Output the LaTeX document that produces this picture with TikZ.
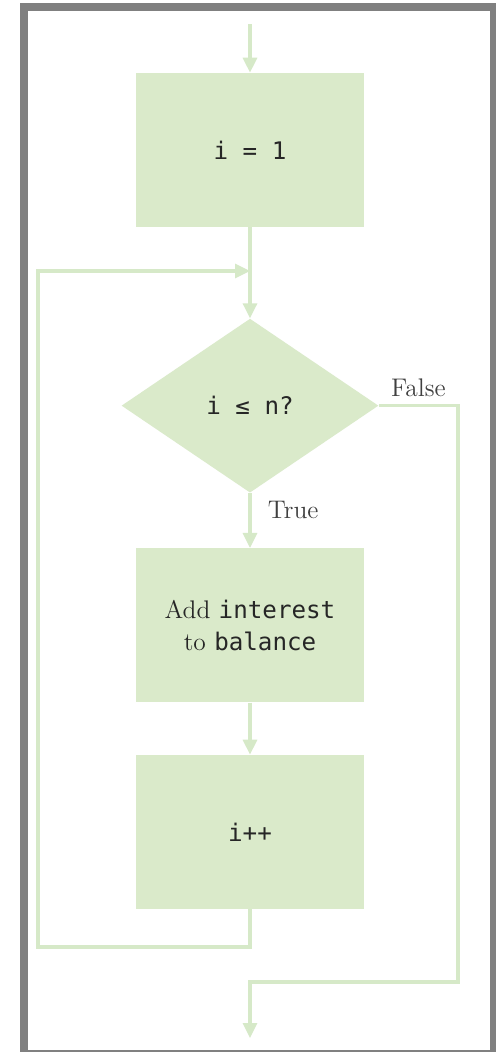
\documentclass[tikz,border=0pt]{standalone}
\usepackage{fontspec}
\setmonofont[Scale=0.95]{DejaVu Sans Mono}
\usetikzlibrary{arrows.meta,shapes.geometric,positioning}
\definecolor{flowfill}{HTML}{DAEACA}
\definecolor{flowline}{HTML}{D6E9C8}
\definecolor{framegray}{HTML}{808080}
\tikzset{
  every picture/.style = {
    >={Triangle[width=0.28cm,length=0.3cm]},
    node distance = 1cm and 2cm,
  }
  ,
  flow/.style = {
    draw = flowline,
    line width = 1.8pt
  }
  ,
  action/.style = {
    rectangle,
    fill = flowfill,
    text = black!85,
    font = \fontsize{14.5}{18}\selectfont,
    align = center,
    minimum width = 4.58cm,
    minimum height = 3.08cm
  }
  , % the test of the loop
  decision/.style = {
    diamond,
    fill = flowfill,
    text = black!85,
    font = \fontsize{14.5}{18}\selectfont,
    inner sep = 0pt,
    minimum width = 5.14cm,
    minimum height = 3.48cm
  }
  , % labels of edges
  label-edge/.style = {
    font = \fontsize{14.5}{16}\selectfont,
    text = black!75
  }
}
\begin{document}
\begin{tikzpicture}[x=0.02cm, y=-0.02cm]
\useasboundingbox (0,0) rectangle (496,1052);
\fill [white] (0,0) rectangle (496,1052);
\draw [framegray, line width=0.16cm] (24,7) rectangle (494,1054);

\node [action] (init) at (250,150) {\texttt{i = 1}};
\node [decision, below = 1.82cm of init] (cond) {\texttt{i ≤ n?}};
\node [action, below = 1.1cm of cond] (body) {Add \texttt{interest}\\to \texttt{balance}};
\node [action, below = 1.04cm of body] (incr) {\texttt{i++}};

\coordinate (start) at (250,24);
\coordinate (join) at (250,271);
\coordinate (back) at (38,947);
\coordinate (out) at (458,982);
\coordinate (exit) at (250,1038);

\draw [flow, ->] (start) -- (init);
\draw [flow] (init) -- (join);
\draw [flow, ->] (join) -- (cond);
\path (cond) edge [flow, ->] node [label-edge, right, pos=0.3, xshift=6pt] {True} (body);
\draw [flow, ->] (body) -- (incr);
\draw [flow, ->] (incr.south) |- (back) |- (join);
\draw [flow, ->] (cond.east) -| node [label-edge, above, pos=0.25, yshift=1pt] {False} (out) -| (exit);
\end{tikzpicture}
\end{document}
